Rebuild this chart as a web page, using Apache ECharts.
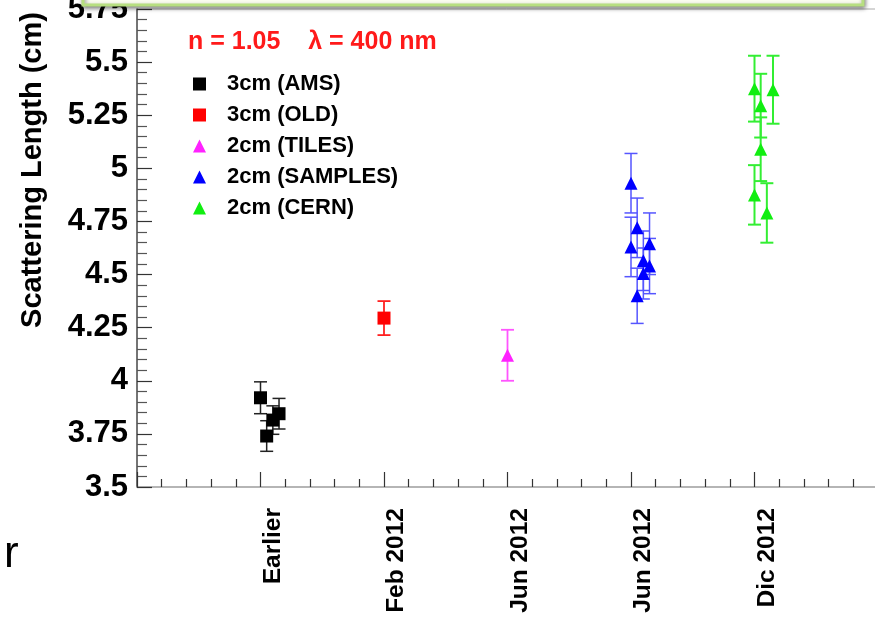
<!DOCTYPE html>
<html>
<head>
<meta charset="utf-8">
<script src="https://cdn.jsdelivr.net/npm/echarts@6/dist/echarts.min.js"></script>
<style>
  html, body { margin: 0; padding: 0; background: #ffffff; }
  #chart { width: 875px; height: 620px; }
</style>
</head>
<body>
<div id="chart"></div>
<script>
// ---- data ----
const xTickLabels = ['', 'Earlier', 'Feb 2012', 'Jun 2012', 'Jun 2012', 'Dic 2012', ''];
const yTicks = [3.5, 3.75, 4, 4.25, 4.5, 4.75, 5, 5.25, 5.5, 5.75];
const yTitle = 'Scattering Length (cm)';
const subTitle = 'n = 1.05    \u03bb = 400 nm';

const seriesNames = ['3cm (AMS)', '3cm (OLD)', '2cm (TILES)', '2cm (SAMPLES)', '2cm (CERN)'];

const amsX   = [1.00, 1.05, 1.10, 1.15];
const amsY   = [3.92, 3.74, 3.815, 3.845];
const amsErr = [0.075, 0.072, 0.067, 0.072];

const oldX   = [2.00];
const oldY   = [4.295];
const oldErr = [0.08];

const tilesX   = [3.00];
const tilesY   = [4.12];
const tilesErr = [0.12];

const samplesX   = [4.00, 4.00, 4.05, 4.05, 4.10, 4.10, 4.15, 4.15];
const samplesY   = [4.93, 4.63, 4.72, 4.40, 4.565, 4.505, 4.645, 4.54];
const samplesErr = [0.14, 0.14, 0.14, 0.13, 0.14, 0.12, 0.145, 0.13];

const cernX   = [5.00, 5.00, 5.05, 5.05, 5.10, 5.15];
const cernY   = [5.375, 4.875, 5.295, 5.09, 4.79, 5.37];
const cernErr = [0.155, 0.14, 0.15, 0.15, 0.14, 0.16];

// ---- helpers ----
function pts(xs, ys) { return xs.map((x, i) => [x, ys[i]]); }
function errPts(xs, ys, es) { return xs.map((x, i) => [x, ys[i], es[i]]); }

function errorSeries(name, data, color, width) {
  return {
    type: 'custom',
    name: name + ' err',
    data: data,
    z: 1,
    silent: true,
    encode: { x: 0, y: 1 },
    renderItem: function (params, api) {
      const x = api.value(0), y = api.value(1), e = api.value(2);
      const top = api.coord([x, y + e]);
      const bot = api.coord([x, y - e]);
      const hw = 6.5;
      const st = { stroke: color, lineWidth: width };
      return {
        type: 'group',
        children: [
          { type: 'line', shape: { x1: top[0], y1: top[1], x2: bot[0], y2: bot[1] }, style: st },
          { type: 'line', shape: { x1: top[0] - hw, y1: top[1], x2: top[0] + hw, y2: top[1] }, style: st },
          { type: 'line', shape: { x1: bot[0] - hw, y1: bot[1], x2: bot[0] + hw, y2: bot[1] }, style: st }
        ]
      };
    }
  };
}

function markerSeries(name, data, color, symbol, size) {
  return {
    type: 'scatter',
    name: name,
    data: data,
    symbol: symbol,
    symbolSize: size,
    z: 3,
    itemStyle: { color: color, opacity: 1 },
    emphasis: { disabled: true }
  };
}

const colors = ['#000000', '#ff0000', '#ff22ff', '#0000ff', '#11ee11'];
const errColors = ['#222222', '#ff2020', '#ff55ff', '#5555ff', '#33ee33'];

const chart = echarts.init(document.getElementById('chart'), null, { renderer: 'canvas' });

const option = {
  backgroundColor: '#ffffff',
  animation: false,
  title: {
    text: subTitle,
    left: 188,
    top: 30,
    padding: 0,
    textStyle: { color: '#ff1a1a', fontSize: 25, fontWeight: 'bold', fontFamily: 'Liberation Sans' }
  },
  legend: {
    data: seriesNames.map((n, i) => ({ name: n, icon: i < 2 ? 'rect' : 'triangle' })),
    orient: 'vertical',
    left: 193,
    top: 73,
    padding: 0,
    itemWidth: 13,
    itemHeight: 13,
    itemGap: 9,
    selectedMode: false,
    textStyle: { color: '#000', fontSize: 22, fontWeight: 'bold', fontFamily: 'Liberation Sans', lineHeight: 21, padding: [0, 0, 0, 16] }
  },
  grid: {
    left: 137,
    top: 9,
    width: 741,
    height: 478,
    outerBoundsMode: 'none',
    containLabel: false,
    show: true,
    borderColor: '#aaaaaa',
    borderWidth: 1,
    backgroundColor: 'transparent'
  },
  xAxis: {
    type: 'value',
    min: 0,
    max: 6,
    interval: 1,
    axisLine: { show: true, lineStyle: { color: '#aaaaaa', width: 1.5 } },
    axisTick: { show: true, inside: true, length: 15, lineStyle: { color: '#333', width: 1.2 } },
    minorTick: { show: true, splitNumber: 5, length: 8, lineStyle: { color: '#333', width: 1.2 } },
    splitLine: { show: false },
    axisLabel: {
      rotate: 90,
      margin: 21,
      verticalAlign: 'top',
      lineHeight: 25,
      color: '#000',
      fontSize: 24.5,
      fontWeight: 'bold',
      fontFamily: 'Liberation Sans',
      formatter: function (v) { return xTickLabels[Math.round(v)] || ''; }
    }
  },
  yAxis: {
    type: 'value',
    min: yTicks[0],
    max: yTicks[yTicks.length - 1],
    interval: 0.25,
    axisLine: { show: true, lineStyle: { color: '#555555', width: 1.5 } },
    axisTick: { show: true, inside: true, length: 15, lineStyle: { color: '#333', width: 1.2 } },
    minorTick: { show: true, splitNumber: 5, length: 10, lineStyle: { color: '#555', width: 1.2 } },
    splitLine: { show: false },
    axisLabel: {
      margin: 9,
      color: '#000',
      fontSize: 31,
      fontWeight: 'bold',
      fontFamily: 'Liberation Sans'
    }
  },
  graphic: [
    {
      type: 'text',
      z: 50,
      x: 33,
      y: 170,
      rotation: Math.PI / 2,
      style: {
        text: yTitle,
        fill: '#000',
        font: 'bold 29px "Liberation Sans"',
        textAlign: 'center',
        textVerticalAlign: 'middle'
      }
    },
    {
      type: 'rect',
      z: 100,
      shape: { x: 83, y: -30, width: 780, height: 35 },
      style: {
        fill: '#fbfdf0',
        stroke: '#b7df80',
        lineWidth: 3,
        shadowBlur: 4,
        shadowOffsetY: 2,
        shadowOffsetX: 1,
        shadowColor: 'rgba(0,0,0,0.45)'
      }
    },
    {
      type: 'text',
      z: 100,
      style: {
        text: 'r',
        x: 4,
        y: 555,
        fill: '#000',
        font: '44px "Liberation Sans"',
        textVerticalAlign: 'middle'
      }
    }
  ],
  series: [
    errorSeries(seriesNames[0], errPts(amsX, amsY, amsErr), errColors[0], 1.5),
    errorSeries(seriesNames[1], errPts(oldX, oldY, oldErr), errColors[1], 1.8),
    errorSeries(seriesNames[2], errPts(tilesX, tilesY, tilesErr), errColors[2], 1.8),
    errorSeries(seriesNames[3], errPts(samplesX, samplesY, samplesErr), errColors[3], 1.5),
    errorSeries(seriesNames[4], errPts(cernX, cernY, cernErr), errColors[4], 2),
    markerSeries(seriesNames[0], pts(amsX, amsY), colors[0], 'rect', 13),
    markerSeries(seriesNames[1], pts(oldX, oldY), colors[1], 'rect', 13),
    markerSeries(seriesNames[2], pts(tilesX, tilesY), colors[2], 'triangle', 13),
    markerSeries(seriesNames[3], pts(samplesX, samplesY), colors[3], 'triangle', 13),
    markerSeries(seriesNames[4], pts(cernX, cernY), colors[4], 'triangle', 13)
  ]
};

chart.setOption(option);
</script>
</body>
</html>
